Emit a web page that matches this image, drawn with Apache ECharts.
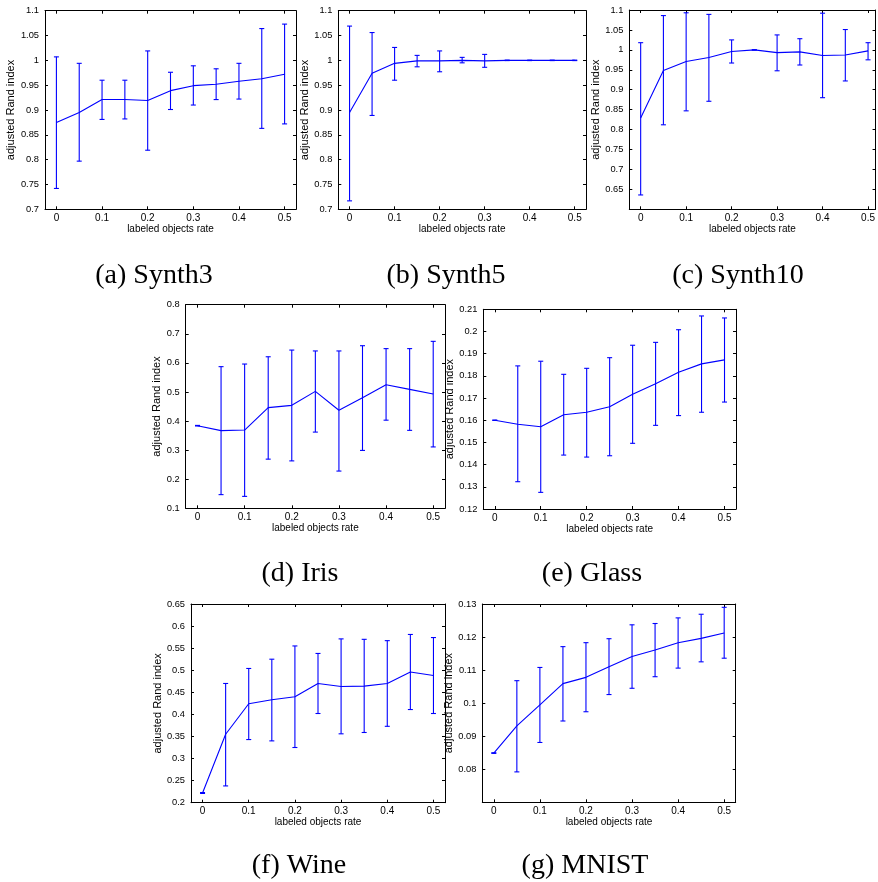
<!DOCTYPE html>
<html>
<head>
<meta charset="utf-8">
<script src="https://cdn.jsdelivr.net/npm/echarts@6/dist/echarts.min.js"></script>
<style>
html,body{margin:0;padding:0;background:#fff;}
#c{width:878px;height:882px;}
</style>
</head>
<body>
<div id="c"></div>
<script>
// ---- data ----
const rates = [0, 0.05, 0.1, 0.15, 0.2, 0.25, 0.3, 0.35, 0.4, 0.45, 0.5];
const xTickValues = [0, 0.1, 0.2, 0.3, 0.4, 0.5];

const synth3Mean  = [0.875, 0.895, 0.921, 0.921, 0.919, 0.939, 0.949, 0.952, 0.958, 0.963, 0.972];
const synth3Upper = [1.007, 0.994, 0.960, 0.960, 1.019, 0.976, 0.989, 0.983, 0.994, 1.064, 1.073];
const synth3Lower = [0.742, 0.797, 0.881, 0.882, 0.819, 0.901, 0.910, 0.921, 0.922, 0.863, 0.872];

const synth5Mean  = [0.895, 0.974, 0.994, 0.999, 0.999, 1.000, 0.999, 1.000, 1.000, 1.000, 1.000];
const synth5Upper = [1.069, 1.056, 1.026, 1.010, 1.019, 1.006, 1.012, 1.0005, 1.0005, 1.0005, 1.0005];
const synth5Lower = [0.717, 0.889, 0.960, 0.987, 0.977, 0.995, 0.986, 0.9995, 0.9995, 0.9995, 0.9995];

const synth10Mean  = [0.829, 0.948, 0.971, 0.981, 0.996, 1.000, 0.993, 0.995, 0.986, 0.987, 0.9975];
const synth10Upper = [1.018, 1.086, 1.093, 1.089, 1.025, 1.000, 1.0375, 1.028, 1.092, 1.051, 1.018];
const synth10Lower = [0.636, 0.812, 0.847, 0.871, 0.967, 1.000, 0.9475, 0.962, 0.880, 0.922, 0.975];

const irisMean  = [0.384, 0.367, 0.369, 0.446, 0.454, 0.502, 0.437, 0.480, 0.525, 0.509, 0.493];
const irisUpper = [0.385, 0.587, 0.596, 0.621, 0.644, 0.641, 0.641, 0.659, 0.649, 0.649, 0.674];
const irisLower = [0.383, 0.147, 0.141, 0.269, 0.263, 0.362, 0.228, 0.299, 0.403, 0.368, 0.311];

const glassMean  = [0.1600, 0.1582, 0.1571, 0.1625, 0.1636, 0.1661, 0.1717, 0.1765, 0.1816, 0.1854, 0.1872];
const glassUpper = [0.1601, 0.1845, 0.1866, 0.1807, 0.1834, 0.1882, 0.1938, 0.1951, 0.2008, 0.2070, 0.2061];
const glassLower = [0.1599, 0.1323, 0.1275, 0.1443, 0.1434, 0.1440, 0.1496, 0.1577, 0.1621, 0.1636, 0.1682];

const wineMean  = [0.222, 0.355, 0.424, 0.433, 0.440, 0.470, 0.463, 0.464, 0.470, 0.496, 0.488];
const wineUpper = [0.223, 0.470, 0.504, 0.525, 0.555, 0.538, 0.571, 0.570, 0.567, 0.581, 0.574];
const wineLower = [0.221, 0.238, 0.343, 0.340, 0.325, 0.402, 0.356, 0.359, 0.373, 0.411, 0.402];

const mnistMean  = [0.0849, 0.0931, 0.0995, 0.1059, 0.1078, 0.1110, 0.1141, 0.1161, 0.1183, 0.1196, 0.1212];
const mnistUpper = [0.0850, 0.1068, 0.1108, 0.1171, 0.1183, 0.1195, 0.1237, 0.1241, 0.1258, 0.1269, 0.1290];
const mnistLower = [0.0848, 0.0792, 0.0881, 0.0946, 0.0974, 0.1026, 0.1045, 0.1080, 0.1106, 0.1125, 0.1136];

const yTicksSynth3  = [0.7, 0.75, 0.8, 0.85, 0.9, 0.95, 1, 1.05, 1.1];
const yTicksSynth5  = [0.7, 0.75, 0.8, 0.85, 0.9, 0.95, 1, 1.05, 1.1];
const yTicksSynth10 = [0.65, 0.7, 0.75, 0.8, 0.85, 0.9, 0.95, 1, 1.05, 1.1];
const yTicksIris    = [0.1, 0.2, 0.3, 0.4, 0.5, 0.6, 0.7, 0.8];
const yTicksGlass   = [0.12, 0.13, 0.14, 0.15, 0.16, 0.17, 0.18, 0.19, 0.2, 0.21];
const yTicksWine    = [0.2, 0.25, 0.3, 0.35, 0.4, 0.45, 0.5, 0.55, 0.6, 0.65];
const yTicksMnist   = [0.08, 0.09, 0.1, 0.11, 0.12, 0.13];

const captions = ['(a) Synth3', '(b) Synth5', '(c) Synth10', '(d) Iris', '(e) Glass', '(f) Wine', '(g) MNIST'];
const xTitle = 'labeled objects rate';
const yTitle = 'adjusted Rand index';

// ---- layout ----
const panels = [
  {mean: synth3Mean,  up: synth3Upper,  lo: synth3Lower,  ticks: yTicksSynth3,  ymin: 0.7,  ymax: 1.1,  xmax: 0.525,  box: [45, 10.7, 251, 198.6],     yGap: 29, cap: [154, 276]},
  {mean: synth5Mean,  up: synth5Upper,  lo: synth5Lower,  ticks: yTicksSynth5,  ymin: 0.7,  ymax: 1.1,  xmax: 0.525,  box: [338.3, 10.7, 247.7, 198.6], yGap: 24, cap: [446, 276]},
  {mean: synth10Mean, up: synth10Upper, lo: synth10Lower, ticks: yTicksSynth10, ymin: 0.6,  ymax: 1.1,  xmax: 0.5165, box: [629.3, 10, 248.2, 199.3],   yGap: 22.6, cap: [738, 276]},
  {mean: irisMean,    up: irisUpper,    lo: irisLower,    ticks: yTicksIris,    ymin: 0.1,  ymax: 0.8,  xmax: 0.525,  box: [185.7, 304.7, 259.3, 203.6], yGap: 18, cap: [300, 574]},
  {mean: glassMean,   up: glassUpper,   lo: glassLower,   ticks: yTicksGlass,   ymin: 0.12, ymax: 0.21, xmax: 0.525,  box: [483.3, 309.3, 252.7, 199.7], yGap: 23, cap: [592, 574]},
  {mean: wineMean,    up: wineUpper,    lo: wineLower,    ticks: yTicksWine,    ymin: 0.2,  ymax: 0.65, xmax: 0.525,  box: [191, 604, 254, 198.7],     yGap: 23.3, cap: [299, 866]},
  {mean: mnistMean,   up: mnistUpper,   lo: mnistLower,   ticks: yTicksMnist,   ymin: 0.07, ymax: 0.13, xmax: 0.525,  box: [482.3, 604, 253.4, 198.3], yGap: 21, cap: [585, 866]}
];

const BLUE = '#0000ff';

const grid = [], xAxis = [], yAxis = [], series = [], graphic = [];

panels.forEach((p, i) => {
  grid.push({left: p.box[0], top: p.box[1], width: p.box[2], height: p.box[3], show: false, containLabel: false});
  const xBase = {
    type: 'value', gridIndex: i, min: -0.025, max: p.xmax,
    axisLine: {show: true, onZero: false, lineStyle: {color: '#000', width: 1}},
    splitLine: {show: false},
    axisTick: {show: true, inside: true, length: 3, lineStyle: {color: '#000'}, customValues: xTickValues}
  };
  xAxis.push(Object.assign({}, xBase, {
    position: 'bottom',
    axisLabel: {show: true, margin: 4, customValues: xTickValues, formatter: v => String(v),
      color: '#000', fontFamily: 'Liberation Sans', fontSize: 10},
    name: xTitle, nameLocation: 'middle', nameGap: 13,
    nameTextStyle: {color: '#000', fontFamily: 'Liberation Sans', fontSize: 10}
  }));
  xAxis.push(Object.assign({}, xBase, {position: 'top', axisLabel: {show: false}}));
  const yBase = {
    type: 'value', gridIndex: i, min: p.ymin, max: p.ymax,
    axisLine: {show: true, onZero: false, lineStyle: {color: '#000', width: 1}},
    splitLine: {show: false},
    axisTick: {show: true, inside: true, length: 3, lineStyle: {color: '#000'}, customValues: p.ticks}
  };
  yAxis.push(Object.assign({}, yBase, {
    position: 'left',
    axisLabel: {show: true, margin: 6, customValues: p.ticks, formatter: v => String(v),
      color: '#000', fontFamily: 'Liberation Sans', fontSize: 9.3},
    name: yTitle, nameLocation: 'middle', nameGap: p.yGap, nameRotate: 90,
    nameTextStyle: {color: '#000', fontFamily: 'Liberation Sans', fontSize: 11}
  }));
  yAxis.push(Object.assign({}, yBase, {position: 'right', axisLabel: {show: false}}));

  const xi = 2 * i, yi = 2 * i;
  series.push({
    type: 'line', xAxisIndex: xi, yAxisIndex: yi,
    data: rates.map((r, k) => [r, p.mean[k]]),
    symbol: 'none', lineStyle: {color: BLUE, width: 1.1}, z: 3
  });
  series.push({
    type: 'custom', xAxisIndex: xi, yAxisIndex: yi,
    data: rates.map((r, k) => [r, p.lo[k], p.up[k]]),
    encode: {x: 0, y: [1, 2]},
    z: 2,
    renderItem: (params, api) => {
      const x = api.value(0);
      const a = api.coord([x, api.value(2)]);
      const b = api.coord([x, api.value(1)]);
      const w = 2.5;
      const st = {stroke: BLUE, lineWidth: 1.1};
      return {type: 'group', children: [
        {type: 'line', shape: {x1: a[0], y1: a[1], x2: b[0], y2: b[1]}, style: st},
        {type: 'line', shape: {x1: a[0] - w, y1: a[1], x2: a[0] + w, y2: a[1]}, style: st},
        {type: 'line', shape: {x1: b[0] - w, y1: b[1], x2: b[0] + w, y2: b[1]}, style: st}
      ]};
    }
  });

  graphic.push({
    type: 'text', x: p.cap[0], y: p.cap[1], z: 10,
    style: {text: captions[i], fill: '#000', font: '28px "Liberation Serif"', textAlign: 'center', textVerticalAlign: 'middle'}
  });
});

const chart = echarts.init(document.getElementById('c'), null, {renderer: 'canvas'});
chart.setOption({
  animation: false,
  backgroundColor: '#fff',
  grid, xAxis, yAxis, series, graphic
});
</script>
</body>
</html>
